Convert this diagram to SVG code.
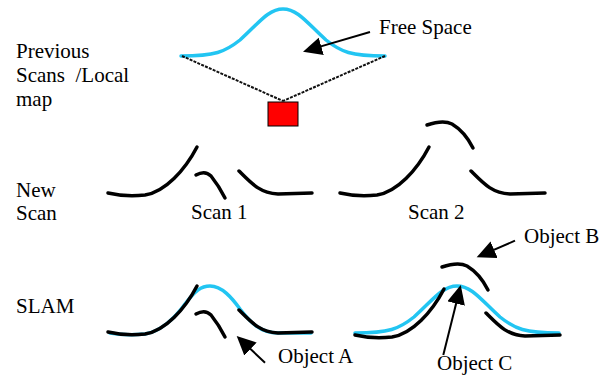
<svg xmlns="http://www.w3.org/2000/svg" xmlns:xlink="http://www.w3.org/1999/xlink" width="611" height="379" viewBox="0 0 611 379">
<style>
text{font-family:"Liberation Serif","Times New Roman",Times,serif;font-size:21px;fill:#000}
.blue{fill:none;stroke:#22C5F2;stroke-width:3.5;stroke-linecap:round;stroke-linejoin:round}
.blk{fill:none;stroke:#000;stroke-width:3.5;stroke-linecap:round;stroke-linejoin:round}
.dot{fill:none;stroke:#111;stroke-width:2;stroke-dasharray:3,1.2}
.arr{fill:none;stroke:#000;stroke-width:2;marker-end:url(#ah)}
</style>
<defs>
<path id="bump" d="M0,0 C34,0 44,-4 59,-16 C77,-32 87,-47 102,-47 C117,-47 127,-32 145,-16 C160,-4 170,0 204,0"/>
<marker id="ah" markerUnits="userSpaceOnUse" markerWidth="20" markerHeight="20" refX="11" refY="9" orient="auto">
<path d="M0,0 L19,9 L0,18 z" fill="#000"/>
</marker>
<g id="s1curves">
<path d="M108,193 Q125,197 145,195 C165,192 185,170 197,147"/>
<path d="M196,175 Q205,170 211,176 Q219,186 225,198"/>
<path d="M239,171 C252,184 260,193 278,194 L312,193"/>
</g>
<g id="s2curves">
<path d="M340,193 Q357,197 377,195 C397,192 417,170 429,147"/>
<path d="M427,125 C436,122 446,121 452,124 C462,130 469,140 473,148"/>
<path d="M471,171 C484,184 492,193 510,194 L545,193"/>
</g>
</defs>

<g id="label-previous">
<text x="16" y="58">Previous</text>
<text x="16" y="82" xml:space="preserve">Scans  /Local</text>
<text x="16" y="105.5">map</text>
</g>
<g id="label-newscan">
<text x="16" y="197">New</text>
<text x="16" y="220">Scan</text>
</g>
<g id="label-slam">
<text x="16" y="313">SLAM</text>
</g>

<g id="previous-map">
<use xlink:href="#bump" href="#bump" class="blue" transform="translate(181,56)"/>
</g>
<g id="robot">
<rect x="268" y="102" width="30" height="24" fill="#FF0000" stroke="#000" stroke-width="1"/>
</g>
<g id="free-space-label">
<text x="379" y="34">Free Space</text>
</g>

<g id="scan1">
<use xlink:href="#s1curves" href="#s1curves" class="blk"/>
<text x="191" y="219">Scan 1</text>
</g>
<g id="scan2">
<use xlink:href="#s2curves" href="#s2curves" class="blk"/>
<text x="408" y="219">Scan 2</text>
</g>

<g id="slam1">
<path class="blue" d="M110,333 Q125,336 145,334 C160,332 175,318 185,304 C195,291 201,286 210,286 C222,286 232,298 240,309 C250,322 260,333 278,333 L311,333"/>
<use xlink:href="#s1curves" href="#s1curves" class="blk" transform="translate(0,139)"/>
</g>
<g id="slam2">
<use xlink:href="#bump" href="#bump" class="blue" transform="translate(355,333)"/>
<use xlink:href="#s2curves" href="#s2curves" class="blk" transform="translate(15,142)"/>
</g>

<g id="object-labels">
<text x="278" y="363">Object A</text>
<text x="524" y="243">Object B</text>
<text x="437" y="370">Object C</text>
</g>

<g id="connectors">
<path class="dot" d="M182,56 L283,101"/>
<path class="dot" d="M385,56 L283,101"/>
<path class="arr" d="M370,32 L310.7,49.4"/>
<path class="arr" d="M265,362.7 L242.5,341.5"/>
<path class="arr" d="M515,240.7 L484,254.1"/>
<path class="arr" d="M443.3,355 L458.8,292.8"/>
</g>
</svg>
